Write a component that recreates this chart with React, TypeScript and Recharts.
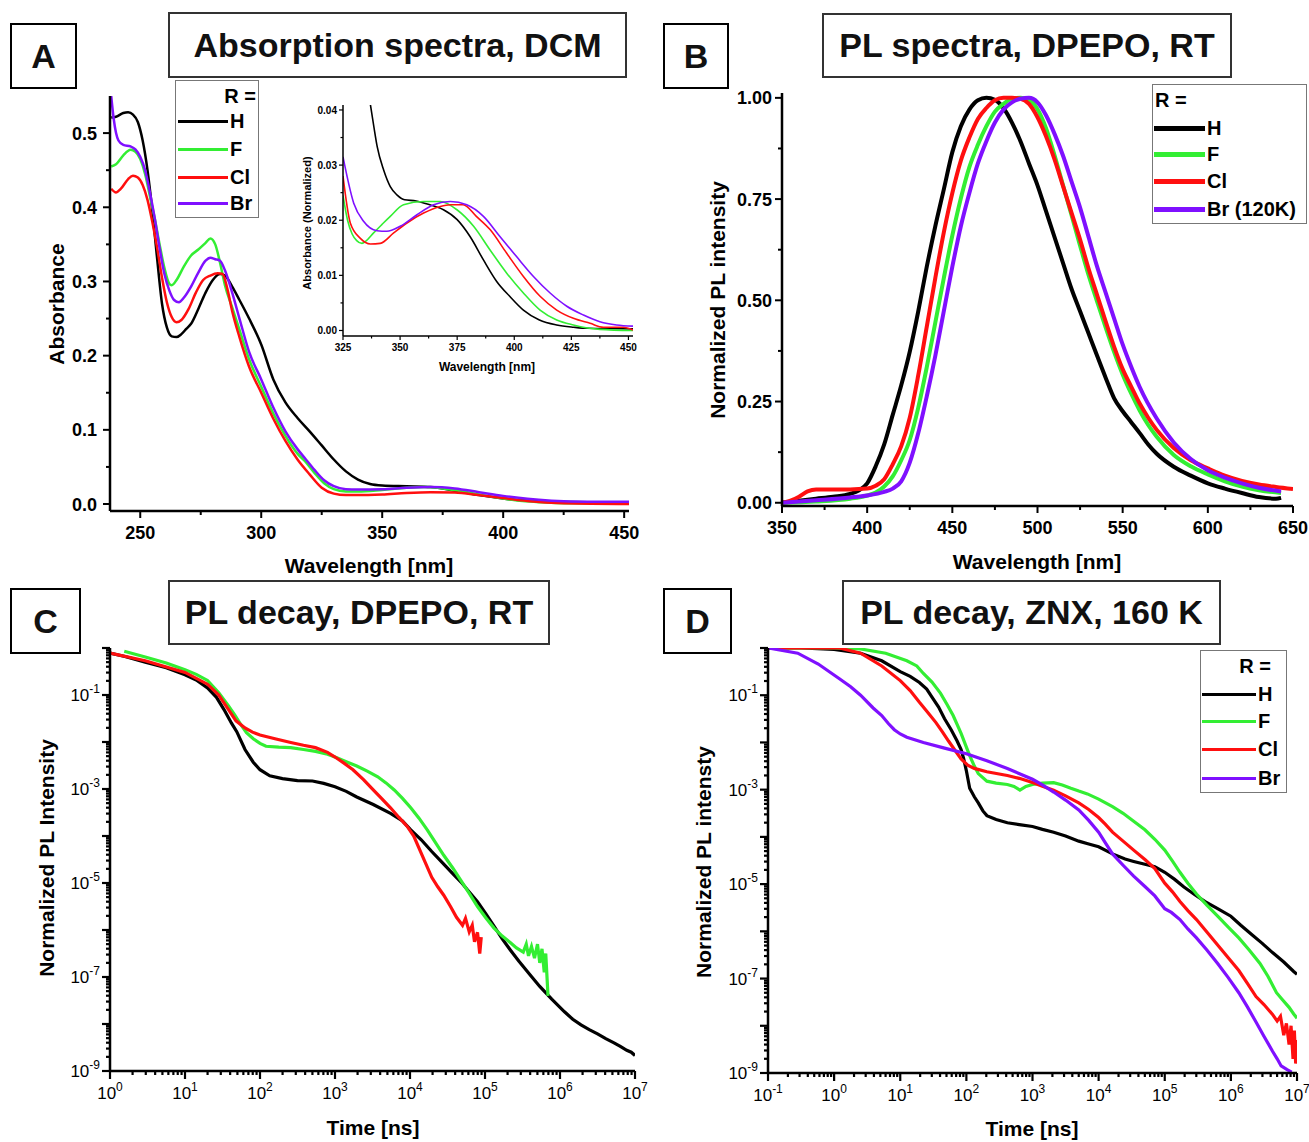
import React from "react";
import { LineChart, Line, XAxis, YAxis } from "recharts";

const FONT = '"Liberation Sans", Arial, Helvetica, sans-serif';
const COL_H = "#000000";
const COL_F = "#33ee33";
const COL_CL = "#ff0f0f";
const COL_BR = "#7f10ff";

type Pt = [number, number];

// ---- Panel A: absorption (nm, absorbance)
const absH: Pt[] = [
  [238, 0.521], [240, 0.522], [243, 0.527], [245, 0.528], [247, 0.525], [249, 0.515], [251, 0.49],
  [253, 0.45], [255, 0.395], [257, 0.33], [259, 0.27], [261, 0.238], [263, 0.226], [265, 0.225],
  [267, 0.229], [269, 0.236], [271, 0.243], [274, 0.263], [277, 0.285], [280, 0.302], [283, 0.31],
  [285, 0.308], [288, 0.293], [291, 0.275], [295, 0.25], [300, 0.215], [305, 0.168], [310, 0.137],
  [315, 0.116], [320, 0.098], [325, 0.079], [330, 0.06], [335, 0.044], [340, 0.033], [345, 0.027],
  [350, 0.025], [360, 0.024], [370, 0.023], [380, 0.018], [390, 0.012], [400, 0.0075], [410, 0.0045],
  [420, 0.003], [435, 0.0025], [452, 0.0025],
];
const absF: Pt[] = [
  [238, 0.455], [240, 0.458], [243, 0.47], [246, 0.4775], [248, 0.475], [250, 0.465], [252, 0.445],
  [254, 0.415], [256, 0.385], [258, 0.35], [260, 0.318], [262, 0.297], [263, 0.295], [265, 0.302],
  [268, 0.32], [271, 0.335], [274, 0.343], [277, 0.352], [279, 0.358], [281, 0.35], [283, 0.325],
  [285, 0.295], [288, 0.265], [291, 0.235], [295, 0.195], [300, 0.158], [305, 0.122], [310, 0.092],
  [315, 0.068], [318, 0.058], [322, 0.042], [326, 0.028], [330, 0.02], [335, 0.017], [340, 0.0168],
  [350, 0.019], [360, 0.022], [368, 0.023], [375, 0.021], [385, 0.016], [395, 0.01], [405, 0.005],
  [415, 0.0025], [430, 0.001], [452, 0.0005],
];
const absCl: Pt[] = [
  [238, 0.425], [240, 0.42], [242, 0.425], [245, 0.438], [247, 0.4425], [249, 0.44], [251, 0.43],
  [253, 0.41], [255, 0.38], [257, 0.345], [259, 0.305], [261, 0.272], [263, 0.252], [265, 0.245],
  [267, 0.248], [270, 0.263], [273, 0.285], [276, 0.302], [279, 0.308], [282, 0.311], [284, 0.31],
  [286, 0.29], [288, 0.26], [291, 0.225], [295, 0.185], [300, 0.15], [305, 0.115], [310, 0.085],
  [315, 0.06], [320, 0.04], [325, 0.022], [330, 0.014], [335, 0.012], [340, 0.012], [350, 0.013],
  [360, 0.015], [370, 0.016], [380, 0.0155], [390, 0.012], [400, 0.008], [410, 0.004], [425, 0.001],
  [452, 0.0],
];
const absBr: Pt[] = [
  [238, 0.55], [239, 0.52], [240, 0.5], [241, 0.49], [243, 0.484], [246, 0.482], [248, 0.478],
  [250, 0.468], [252, 0.45], [254, 0.42], [256, 0.385], [258, 0.345], [260, 0.31], [262, 0.288],
  [264, 0.275], [266, 0.272], [268, 0.278], [271, 0.293], [274, 0.312], [277, 0.328], [279, 0.332],
  [281, 0.33], [283, 0.328], [285, 0.315], [288, 0.285], [291, 0.25], [295, 0.205], [300, 0.168],
  [305, 0.13], [310, 0.098], [315, 0.074], [318, 0.062], [322, 0.046], [326, 0.032], [330, 0.024],
  [335, 0.02], [340, 0.0195], [350, 0.02], [360, 0.022], [370, 0.023], [380, 0.021], [390, 0.016],
  [400, 0.011], [410, 0.007], [420, 0.0045], [435, 0.003], [452, 0.003],
];

// ---- Panel A inset (nm, normalized absorbance)
const insH: Pt[] = [
  [336.8, 0.0415], [338.5, 0.037], [340, 0.0333], [342.8, 0.0291], [345.7, 0.0261], [348.6, 0.0246],
  [352, 0.0237], [357, 0.0235], [363, 0.0228], [369, 0.0219], [375, 0.0201], [380.7, 0.017],
  [386.5, 0.0128], [392.3, 0.0089], [398, 0.0062], [404, 0.0037], [411, 0.0019], [418.6, 0.001],
  [426, 0.0006], [432, 0.0004], [452, 0.0003],
];
const insF: Pt[] = [
  [325, 0.0245], [327, 0.02], [329, 0.0175], [331, 0.0163], [333.3, 0.0158], [335, 0.0162],
  [338.4, 0.0177], [342, 0.0192], [345.7, 0.0207], [351.5, 0.0228], [360.3, 0.0234], [367.6, 0.0234],
  [374.9, 0.0219], [382.2, 0.0189], [389.4, 0.0146], [396.7, 0.0104], [404, 0.0068], [411.3, 0.0037],
  [418.6, 0.0019], [425.9, 0.001], [437.5, 0.0002], [452, 0.0],
];
const insCl: Pt[] = [
  [325, 0.028], [328.2, 0.0195], [332.6, 0.0167], [337, 0.0157], [341.3, 0.0158], [347.2, 0.0177],
  [353, 0.0195], [360.3, 0.0213], [367.6, 0.0225], [372, 0.0228], [377.6, 0.0228], [383.4, 0.0207],
  [389.4, 0.0183], [396.7, 0.014], [404, 0.0098], [411.3, 0.0062], [418.6, 0.0037], [425.9, 0.0022],
  [433.2, 0.0013], [439, 0.0006], [447.7, 0.0006], [452, 0.0001],
];
const insBr: Pt[] = [
  [325, 0.0315], [329.7, 0.0231], [334, 0.0198], [339.9, 0.0181], [344.2, 0.018], [350, 0.0189],
  [357.4, 0.021], [364.7, 0.0228], [372, 0.0234], [379.2, 0.0228], [386.5, 0.0207], [393.8, 0.017],
  [401, 0.0134], [408.4, 0.0098], [415.7, 0.0068], [423, 0.0044], [430.3, 0.0028], [437.5, 0.0016],
  [444.8, 0.001], [452, 0.0008],
];

// ---- Panel B: PL spectra (nm, normalized)
const plH: Pt[] = [
  [350, 0.0], [360, 0.005], [370, 0.01], [380, 0.015], [390, 0.022], [395, 0.03], [400, 0.048],
  [405, 0.09], [410, 0.144], [415, 0.217], [420, 0.29], [425, 0.373], [430, 0.473], [435, 0.583],
  [440, 0.683], [445, 0.774], [450, 0.866], [455, 0.93], [460, 0.971], [465, 0.994], [470, 1.0],
  [475, 0.995], [480, 0.975], [485, 0.939], [490, 0.893], [495, 0.838], [500, 0.784], [505, 0.72],
  [510, 0.656], [515, 0.592], [520, 0.528], [525, 0.473], [530, 0.418], [535, 0.363], [540, 0.309],
  [545, 0.258], [550, 0.226], [555, 0.199], [560, 0.172], [565, 0.144], [570, 0.121], [580, 0.089],
  [590, 0.067], [600, 0.048], [610, 0.035], [620, 0.024], [630, 0.014], [640, 0.01], [643, 0.012],
];
const plF: Pt[] = [
  [350, 0.0], [370, 0.003], [390, 0.01], [400, 0.018], [405, 0.025], [410, 0.04], [415, 0.065],
  [420, 0.105], [425, 0.155], [430, 0.235], [435, 0.335], [440, 0.445], [445, 0.555], [450, 0.66],
  [455, 0.752], [460, 0.829], [465, 0.884], [470, 0.93], [475, 0.966], [480, 0.985], [485, 0.998],
  [490, 1.0], [495, 0.995], [500, 0.972], [505, 0.925], [510, 0.858], [515, 0.784], [520, 0.71],
  [525, 0.635], [530, 0.562], [535, 0.497], [540, 0.433], [545, 0.372], [550, 0.317], [555, 0.27],
  [560, 0.228], [565, 0.192], [570, 0.163], [580, 0.118], [590, 0.09], [600, 0.07], [610, 0.053],
  [620, 0.04], [630, 0.031], [643, 0.024],
];
const plCl: Pt[] = [
  [350, 0.0], [355, 0.005], [360, 0.015], [365, 0.028], [370, 0.033], [380, 0.033], [390, 0.033],
  [400, 0.035], [405, 0.042], [410, 0.058], [415, 0.095], [420, 0.14], [425, 0.21], [430, 0.315],
  [435, 0.435], [440, 0.555], [445, 0.668], [450, 0.765], [455, 0.845], [460, 0.902], [465, 0.948],
  [470, 0.975], [475, 0.994], [480, 1.0], [485, 1.0], [490, 0.998], [495, 0.985], [500, 0.952],
  [505, 0.905], [510, 0.848], [515, 0.782], [520, 0.716], [525, 0.65], [530, 0.578], [535, 0.513],
  [540, 0.448], [545, 0.385], [550, 0.33], [555, 0.287], [560, 0.245], [565, 0.21], [570, 0.18],
  [580, 0.135], [590, 0.105], [600, 0.085], [610, 0.067], [620, 0.054], [630, 0.045], [640, 0.039],
  [650, 0.034],
];
const plBr: Pt[] = [
  [350, 0.0], [370, 0.006], [390, 0.013], [400, 0.018], [410, 0.027], [415, 0.035], [420, 0.053],
  [425, 0.099], [430, 0.172], [435, 0.263], [440, 0.363], [445, 0.473], [450, 0.583], [455, 0.683],
  [460, 0.765], [465, 0.838], [470, 0.893], [475, 0.939], [480, 0.971], [485, 0.989], [490, 0.998],
  [495, 1.0], [500, 0.989], [505, 0.957], [510, 0.911], [515, 0.857], [520, 0.793], [525, 0.729],
  [530, 0.656], [535, 0.583], [540, 0.519], [545, 0.455], [550, 0.391], [555, 0.336], [560, 0.286],
  [570, 0.208], [580, 0.149], [590, 0.108], [600, 0.08], [610, 0.062], [620, 0.048], [630, 0.037],
  [643, 0.028],
];

// ---- Panel C: PL decay DPEPO, stored as [log10 t(ns), log10 I]
const decCH: Pt[] = [
  [0, -0.11], [0.2, -0.18], [0.47, -0.3], [0.75, -0.42], [1.0, -0.57], [1.15, -0.68], [1.3, -0.85],
  [1.42, -1.05], [1.52, -1.31], [1.62, -1.6], [1.69, -1.78], [1.8, -2.16], [1.91, -2.43], [2.0, -2.59],
  [2.13, -2.72], [2.3, -2.78], [2.5, -2.82], [2.7, -2.83], [2.85, -2.88], [3.0, -2.95], [3.15, -3.05],
  [3.29, -3.17], [3.51, -3.33], [3.74, -3.52], [3.9, -3.68], [4.01, -3.87], [4.15, -4.08], [4.29, -4.33],
  [4.45, -4.6], [4.57, -4.8], [4.68, -4.98], [4.79, -5.19], [4.9, -5.4], [5.01, -5.65], [5.12, -5.92],
  [5.23, -6.19], [5.34, -6.43], [5.45, -6.66], [5.6, -6.95], [5.73, -7.2], [5.89, -7.47], [6.06, -7.74],
  [6.17, -7.9], [6.28, -8.02], [6.39, -8.12], [6.5, -8.21], [6.61, -8.31], [6.72, -8.4], [6.81, -8.48],
  [6.89, -8.56], [6.95, -8.6], [7.0, -8.67],
];
const decCF: Pt[] = [
  [0.19, -0.07], [0.47, -0.19], [0.75, -0.32], [1.0, -0.46], [1.15, -0.56], [1.3, -0.69], [1.45, -0.95],
  [1.58, -1.23], [1.66, -1.42], [1.74, -1.62], [1.82, -1.8], [1.91, -1.93], [2.0, -2.03], [2.08, -2.09],
  [2.25, -2.11], [2.41, -2.12], [2.58, -2.16], [2.74, -2.2], [2.9, -2.26], [3.0, -2.32], [3.15, -2.42],
  [3.29, -2.51], [3.43, -2.62], [3.57, -2.74], [3.68, -2.87], [3.79, -3.02], [3.9, -3.2], [4.01, -3.4],
  [4.12, -3.62], [4.23, -3.87], [4.34, -4.14], [4.45, -4.41], [4.57, -4.68], [4.68, -4.95], [4.79, -5.22],
  [4.9, -5.5], [5.01, -5.74], [5.12, -5.96], [5.23, -6.13], [5.34, -6.27], [5.42, -6.38], [5.51, -6.47],
  [5.55, -6.3], [5.58, -6.55], [5.62, -6.35], [5.66, -6.6], [5.7, -6.3], [5.73, -6.7], [5.76, -6.4],
  [5.79, -6.9], [5.81, -6.5], [5.84, -7.4],
];
const decCCl: Pt[] = [
  [0, -0.11], [0.47, -0.27], [1.0, -0.52], [1.3, -0.77], [1.45, -1.0], [1.58, -1.31], [1.68, -1.55],
  [1.8, -1.7], [1.9, -1.79], [2.0, -1.85], [2.2, -1.93], [2.41, -2.01], [2.58, -2.07], [2.74, -2.12],
  [2.9, -2.22], [3.0, -2.32], [3.12, -2.45], [3.24, -2.59], [3.38, -2.8], [3.51, -3.02], [3.62, -3.2],
  [3.74, -3.4], [3.85, -3.6], [3.96, -3.79], [4.05, -4.0], [4.12, -4.26], [4.2, -4.55], [4.29, -4.88],
  [4.37, -5.08], [4.45, -5.26], [4.54, -5.5], [4.62, -5.73], [4.7, -5.9], [4.74, -5.75], [4.79, -6.04],
  [4.83, -5.9], [4.86, -6.25], [4.9, -6.05], [4.93, -6.5], [4.95, -6.15],
];

// ---- Panel D: PL decay ZNX 160 K, [log10 t(ns), log10 I]
const decDH: Pt[] = [
  [-1, 0], [-0.5, 0], [0, -0.03], [0.4, -0.11], [0.72, -0.27], [1.0, -0.5], [1.15, -0.6], [1.29, -0.73],
  [1.4, -0.87], [1.48, -1.04], [1.58, -1.25], [1.67, -1.5], [1.77, -1.73], [1.86, -1.97], [1.92, -2.15],
  [1.96, -2.35], [2.0, -2.6], [2.05, -2.97], [2.12, -3.15], [2.18, -3.28], [2.25, -3.45], [2.31, -3.55],
  [2.45, -3.63], [2.62, -3.7], [2.8, -3.74], [3.0, -3.78], [3.15, -3.84], [3.32, -3.9], [3.5, -3.98],
  [3.7, -4.09], [3.85, -4.15], [4.0, -4.21], [4.21, -4.36], [4.4, -4.47], [4.53, -4.52], [4.7, -4.58],
  [4.85, -4.63], [5.0, -4.75], [5.15, -4.9], [5.29, -5.06], [5.45, -5.22], [5.61, -5.37], [5.8, -5.52],
  [6.0, -5.68], [6.15, -5.87], [6.31, -6.06], [6.47, -6.25], [6.63, -6.45], [6.8, -6.65], [6.95, -6.85],
  [7.0, -6.91],
];
const decDF: Pt[] = [
  [-1, 0], [0, 0], [0.4, -0.02], [0.78, -0.11], [1.1, -0.27], [1.25, -0.38], [1.35, -0.54], [1.48, -0.72],
  [1.61, -0.96], [1.71, -1.2], [1.8, -1.43], [1.92, -1.81], [2.0, -2.1], [2.05, -2.28], [2.12, -2.5],
  [2.18, -2.66], [2.31, -2.82], [2.45, -2.86], [2.62, -2.89], [2.72, -2.93], [2.81, -3.01], [2.9, -2.93],
  [3.0, -2.89], [3.15, -2.86], [3.32, -2.85], [3.45, -2.9], [3.58, -2.97], [3.7, -3.03], [3.83, -3.09],
  [4.0, -3.2], [4.21, -3.36], [4.37, -3.5], [4.53, -3.67], [4.7, -3.85], [4.85, -4.05], [5.0, -4.28],
  [5.12, -4.52], [5.23, -4.75], [5.35, -4.98], [5.48, -5.21], [5.64, -5.45], [5.8, -5.68], [5.96, -5.91],
  [6.12, -6.14], [6.28, -6.4], [6.44, -6.68], [6.56, -6.95], [6.69, -7.3], [6.78, -7.45], [6.88, -7.61],
  [6.95, -7.75], [7.0, -7.84],
];
const decDCl: Pt[] = [
  [-1, 0], [0.08, 0], [0.4, -0.11], [0.72, -0.38], [1.0, -0.69], [1.15, -0.9], [1.29, -1.15], [1.42, -1.37],
  [1.54, -1.58], [1.64, -1.78], [1.73, -1.97], [1.83, -2.17], [1.92, -2.35], [2.02, -2.48], [2.12, -2.55],
  [2.31, -2.62], [2.62, -2.7], [2.8, -2.76], [3.0, -2.85], [3.15, -2.93], [3.32, -3.01], [3.5, -3.13],
  [3.7, -3.28], [3.85, -3.42], [4.0, -3.59], [4.1, -3.73], [4.21, -3.9], [4.37, -4.09], [4.53, -4.28],
  [4.7, -4.48], [4.85, -4.67], [5.0, -4.98], [5.12, -5.17], [5.23, -5.37], [5.35, -5.56], [5.48, -5.75],
  [5.64, -6.02], [5.8, -6.29], [5.96, -6.56], [6.12, -6.83], [6.25, -7.1], [6.38, -7.38], [6.5, -7.55],
  [6.63, -7.76], [6.7, -7.9], [6.75, -7.8], [6.8, -8.2], [6.84, -7.95], [6.88, -8.4], [6.91, -8.0],
  [6.94, -8.7], [6.96, -8.1], [6.98, -8.8], [7.0, -8.3],
];
const decDBr: Pt[] = [
  [-1, 0], [-0.55, -0.11], [-0.24, -0.34], [0.08, -0.65], [0.25, -0.82], [0.4, -1.0], [0.59, -1.27],
  [0.72, -1.43], [0.82, -1.6], [0.91, -1.73], [1.0, -1.82], [1.1, -1.89], [1.35, -2.0], [1.67, -2.12],
  [2.0, -2.24], [2.31, -2.39], [2.62, -2.55], [3.0, -2.78], [3.15, -2.9], [3.32, -3.05], [3.5, -3.22],
  [3.7, -3.43], [3.85, -3.65], [4.0, -3.9], [4.1, -4.12], [4.21, -4.36], [4.37, -4.6], [4.53, -4.83],
  [4.7, -5.05], [4.85, -5.25], [5.0, -5.52], [5.1, -5.6], [5.23, -5.75], [5.35, -5.95], [5.48, -6.14],
  [5.64, -6.4], [5.8, -6.68], [5.96, -6.98], [6.12, -7.3], [6.25, -7.6], [6.38, -7.92], [6.5, -8.22],
  [6.63, -8.54], [6.7, -8.7], [6.76, -8.85], [6.85, -8.93], [6.92, -8.98],
];

// ---- labels
const legendA = ["H", "F", "Cl", "Br"];
const legendB = ["H", "F", "Cl", "Br (120K)"];
const seriesColors = [COL_H, COL_F, COL_CL, COL_BR];

const rows = (pts: Pt[]) => pts.map(([x, y]) => ({ x, y }));
const logRows = (pts: Pt[]) => pts.map(([lx, ly]) => ({ x: Math.pow(10, lx), y: Math.pow(10, ly) }));

function steps(a: number, b: number, s: number) {
  const out: number[] = [];
  for (let i = 0; a + i * s <= b + 1e-9; i++) out.push(+(a + i * s).toFixed(6));
  return out;
}
function decades(lo: number, hi: number) {
  const out: number[] = [];
  for (let n = lo; n < hi; n++) for (let k = 1; k <= 9; k++) out.push(k * Math.pow(10, n));
  out.push(Math.pow(10, hi));
  return out;
}
const onStep = (s: number) => (v: number) => Math.abs(v / s - Math.round(v / s)) < 1e-6;
const isDecade = (v: number) => Math.abs(Math.log10(v) - Math.round(Math.log10(v))) < 1e-6;
const oddDecade = (v: number) => isDecade(v) && Math.abs(Math.round(Math.log10(v))) % 2 === 1;
const pow10 = (sup: number) => (v: number) => [
  <tspan key="b">10</tspan>,
  <tspan key="e" dy={-8} fontSize={sup}>{Math.round(Math.log10(v))}</tspan>,
];

type TickOpts = {
  major: (v: number) => boolean;
  show?: (v: number) => boolean;
  label: (v: number) => React.ReactNode;
  fs: number;
  fw: number | string;
  maj: number;
  min: number;
  sw: number;
  gap: number;
};

function xTick(o: TickOpts) {
  return (p: any) => {
    const v = p.payload.value;
    const m = o.major(v);
    const s = o.show ? o.show(v) : m;
    return (
      <g>
        <line x1={p.x} x2={p.x} y1={p.y} y2={p.y + (m ? o.maj : o.min)} stroke="#000" strokeWidth={o.sw} />
        {s && (
          <text x={p.x} y={p.y + o.gap} textAnchor="middle" fontFamily={FONT} fontSize={o.fs} fontWeight={o.fw} fill="#000">
            {o.label(v)}
          </text>
        )}
      </g>
    );
  };
}
function yTick(o: TickOpts) {
  return (p: any) => {
    const v = p.payload.value;
    const m = o.major(v);
    const s = o.show ? o.show(v) : m;
    return (
      <g>
        <line x1={p.x} x2={p.x - (m ? o.maj : o.min)} y1={p.y} y2={p.y} stroke="#000" strokeWidth={o.sw} />
        {s && (
          <text x={p.x - o.gap} y={p.y + o.fs * 0.36} textAnchor="end" fontFamily={FONT} fontSize={o.fs} fontWeight={o.fw} fill="#000">
            {o.label(v)}
          </text>
        )}
      </g>
    );
  };
}

type Rect = { l: number; t: number; r: number; b: number };
const YW = 90;
const XH = 60;
const PT = 12;
const PR = 30;

function Frame({ rect, children, yw = YW, xh = XH }: { rect: Rect; children: React.ReactNode; yw?: number; xh?: number }) {
  return (
    <div style={{ position: "absolute", left: rect.l - yw, top: rect.t - PT }}>
      <LineChart
        width={rect.r - rect.l + yw + PR}
        height={rect.b - rect.t + PT + xh}
        margin={{ top: PT, right: PR, left: 0, bottom: 0 }}
      >
        {children}
      </LineChart>
    </div>
  );
}

const axisLine = (w: number) => ({ stroke: "#000", strokeWidth: w });

function Box({ l, t, r, b, text, fs, border }: { l: number; t: number; r: number; b: number; text: string; fs: number; border: string }) {
  return (
    <div
      style={{
        position: "absolute", left: l, top: t, width: r - l, height: b - t, boxSizing: "border-box",
        border, display: "flex", alignItems: "center", justifyContent: "center",
        fontFamily: FONT, fontWeight: 700, fontSize: fs, color: "#111", whiteSpace: "nowrap", background: "#fff",
      }}
    >
      {text}
    </div>
  );
}

function AxisTitle({ x, y, text, fs, vertical }: { x: number; y: number; text: string; fs: number; vertical?: boolean }) {
  return (
    <div
      style={{
        position: "absolute", left: x, top: y, whiteSpace: "nowrap", fontFamily: FONT, fontWeight: 700,
        fontSize: fs, lineHeight: 1, color: "#000",
        transform: `translate(-50%, -50%)${vertical ? " rotate(-90deg)" : ""}`,
      }}
    >
      {text}
    </div>
  );
}

function LegendPanel(props: {
  box: Rect; head: { x: number; y: number; right?: boolean }; x1: number; x2: number; tx: number;
  ys: number[]; labels: string[]; lw: number; fs: number;
}) {
  const { box, head, x1, x2, tx, ys, labels, lw, fs } = props;
  const txt = (x: number, y: number, s: string, right?: boolean) => (
    <div
      key={s + y}
      style={{
        position: "absolute", top: y, left: right ? undefined : x, right: right ? 1309 - x : undefined,
        transform: "translateY(-50%)", fontFamily: FONT, fontWeight: 700, fontSize: fs, lineHeight: 1,
        whiteSpace: "nowrap", color: "#000",
      }}
    >
      {s}
    </div>
  );
  return (
    <>
      <div
        style={{
          position: "absolute", left: box.l, top: box.t, width: box.r - box.l, height: box.b - box.t,
          boxSizing: "border-box", border: "1.5px solid #777", background: "#fff",
        }}
      />
      {txt(head.x, head.y, "R =", head.right)}
      {labels.map((s, i) => (
        <React.Fragment key={s}>
          <div style={{ position: "absolute", left: x1, top: ys[i] - lw / 2, width: x2 - x1, height: lw, background: seriesColors[i] }} />
          {txt(tx, ys[i], s)}
        </React.Fragment>
      ))}
    </>
  );
}

const rectA: Rect = { l: 110, t: 96, r: 629, b: 511 };
const rectIn: Rect = { l: 343, t: 105, r: 633, b: 336 };
const rectB: Rect = { l: 782, t: 93, r: 1293, b: 506 };
const rectC: Rect = { l: 110, t: 648, r: 635, b: 1071 };
const rectD: Rect = { l: 768, t: 648, r: 1297, b: 1073 };

const linTick = (major: (v: number) => boolean, dec: number, fs: number, gap: number, maj = 7, min = 4, sw = 2) => ({
  major, label: (v: number) => (Number.isInteger(v) && dec === 0 ? String(v) : v.toFixed(dec)), fs, fw: 700, maj, min, sw, gap,
});
const logTick = (gap: number, show?: (v: number) => boolean) => ({
  major: isDecade, show, label: pow10(12), fs: 17, fw: 400, maj: 8, min: 4, sw: 2.2, gap,
});

export default function App() {
  const absSeries = [absH, absF, absCl, absBr];
  const insSeries = [insH, insF, insCl, insBr];
  const plSeries = [plH, plF, plCl, plBr];
  const decC = [decCH, decCF, decCCl];
  const decD = [decDH, decDF, decDCl, decDBr];

  return (
    <div style={{ position: "absolute", left: 0, top: 0, width: 1309, height: 1142, background: "#fff", overflow: "hidden" }}>
      {/* Panel A */}
      <Frame rect={rectA}>
        <XAxis type="number" dataKey="x" domain={[237.5, 452]} ticks={steps(250, 450, 25)} interval={0} allowDataOverflow
          height={XH} tickSize={0} tickMargin={0} tickLine={false} axisLine={axisLine(2.5)}
          tick={xTick(linTick(onStep(50), 0, 18, 28))} />
        <YAxis type="number" domain={[-0.0094, 0.55]} ticks={steps(0, 0.5, 0.05)} interval={0} allowDataOverflow
          width={YW} tickSize={0} tickMargin={0} tickLine={false} axisLine={axisLine(2.5)}
          tick={yTick(linTick(onStep(0.1), 1, 18, 13))} />
        {absSeries.map((s, i) => (
          <Line key={i} data={rows(s)} dataKey="y" type="monotone" stroke={seriesColors[i]} strokeWidth={2.5}
            dot={false} isAnimationActive={false} />
        ))}
      </Frame>
      <Frame rect={rectIn} yw={50} xh={30}>
        <XAxis type="number" dataKey="x" domain={[325, 452]} ticks={steps(325, 450, 12.5)} interval={0} allowDataOverflow
          height={30} tickSize={0} tickMargin={0} tickLine={false} axisLine={axisLine(1.5)}
          tick={xTick(linTick(onStep(25), 0, 10, 15, 4, 2.5, 1.2))} />
        <YAxis type="number" domain={[-0.001, 0.0409]} ticks={steps(0, 0.04, 0.005)} interval={0} allowDataOverflow
          width={50} tickSize={0} tickMargin={0} tickLine={false} axisLine={axisLine(1.5)}
          tick={yTick(linTick(onStep(0.01), 2, 10, 6, 4, 2.5, 1.2))} />
        {insSeries.map((s, i) => (
          <Line key={i} data={rows(s)} dataKey="y" type="monotone" stroke={seriesColors[i]} strokeWidth={1.6}
            dot={false} isAnimationActive={false} />
        ))}
      </Frame>

      {/* Panel B */}
      <Frame rect={rectB}>
        <XAxis type="number" dataKey="x" domain={[350, 650]} ticks={steps(350, 650, 25)} interval={0} allowDataOverflow
          height={XH} tickSize={0} tickMargin={0} tickLine={false} axisLine={axisLine(2.5)}
          tick={xTick(linTick(onStep(50), 0, 18, 28))} />
        <YAxis type="number" domain={[-0.008, 1.012]} ticks={steps(0, 1, 0.125)} interval={0} allowDataOverflow
          width={YW} tickSize={0} tickMargin={0} tickLine={false} axisLine={axisLine(2.5)}
          tick={yTick(linTick(onStep(0.25), 2, 18, 10))} />
        {plSeries.map((s, i) => (
          <Line key={i} data={rows(s)} dataKey="y" type="monotone" stroke={seriesColors[i]} strokeWidth={4}
            dot={false} isAnimationActive={false} />
        ))}
      </Frame>

      {/* Panel C */}
      <Frame rect={rectC}>
        <XAxis type="number" scale="log" dataKey="x" domain={[1, 1e7]} ticks={decades(0, 7)} interval={0} allowDataOverflow
          height={XH} tickSize={0} tickMargin={0} tickLine={false} axisLine={axisLine(2.5)} tick={xTick(logTick(28))} />
        <YAxis type="number" scale="log" domain={[1e-9, 1]} ticks={decades(-9, 0)} interval={0} allowDataOverflow
          width={YW} tickSize={0} tickMargin={0} tickLine={false} axisLine={axisLine(2.5)} tick={yTick(logTick(10, oddDecade))} />
        {decC.map((s, i) => (
          <Line key={i} data={logRows(s)} dataKey="y" type="linear" stroke={seriesColors[i]} strokeWidth={3.2}
            dot={false} isAnimationActive={false} />
        ))}
      </Frame>

      {/* Panel D */}
      <Frame rect={rectD}>
        <XAxis type="number" scale="log" dataKey="x" domain={[0.1, 1e7]} ticks={decades(-1, 7)} interval={0} allowDataOverflow
          height={XH} tickSize={0} tickMargin={0} tickLine={false} axisLine={axisLine(2.5)} tick={xTick(logTick(28))} />
        <YAxis type="number" scale="log" domain={[1e-9, 1]} ticks={decades(-9, 0)} interval={0} allowDataOverflow
          width={YW} tickSize={0} tickMargin={0} tickLine={false} axisLine={axisLine(2.5)} tick={yTick(logTick(10, oddDecade))} />
        {decD.map((s, i) => (
          <Line key={i} data={logRows(s)} dataKey="y" type="linear" stroke={seriesColors[i]} strokeWidth={3.2}
            dot={false} isAnimationActive={false} />
        ))}
      </Frame>

      {/* boxes and titles */}
      <Box l={10} t={23} r={77} b={89} text="A" fs={34} border="2.5px solid #000" />
      <Box l={168} t={12} r={627} b={78} text="Absorption spectra, DCM" fs={34} border="2px solid #333" />
      <Box l={663} t={23} r={729} b={89} text="B" fs={34} border="2.5px solid #000" />
      <Box l={822} t={13} r={1232} b={78} text="PL spectra, DPEPO, RT" fs={34} border="2px solid #333" />
      <Box l={10} t={588} r={81} b={654} text="C" fs={34} border="2.5px solid #000" />
      <Box l={168} t={580} r={550} b={645} text="PL decay, DPEPO, RT" fs={34} border="2px solid #333" />
      <Box l={663} t={588} r={732} b={654} text="D" fs={34} border="2.5px solid #000" />
      <Box l={842} t={580} r={1221} b={645} text="PL decay, ZNX, 160 K" fs={34} border="2px solid #333" />

      <AxisTitle x={56} y={304} text="Absorbance" fs={21} vertical />
      <AxisTitle x={369} y={565} text="Wavelength [nm]" fs={21} />
      <AxisTitle x={307} y={223} text="Absorbance (Normalized)" fs={11} vertical />
      <AxisTitle x={487} y={367} text="Wavelength [nm]" fs={12} />
      <AxisTitle x={717} y={300} text="Normalized PL intensity" fs={21} vertical />
      <AxisTitle x={1037} y={561} text="Wavelength [nm]" fs={21} />
      <AxisTitle x={46} y={858} text="Normalized PL Intensity" fs={21} vertical />
      <AxisTitle x={373} y={1127} text="Time [ns]" fs={21} />
      <AxisTitle x={703} y={862} text="Normalized PL intensty" fs={21} vertical />
      <AxisTitle x={1032} y={1128} text="Time [ns]" fs={21} />

      <LegendPanel box={{ l: 175, t: 80, r: 259, b: 218 }} head={{ x: 256, y: 96, right: true }} x1={178} x2={228} tx={230}
        ys={[121, 149, 177, 203]} labels={legendA} lw={3} fs={20} />
      <LegendPanel box={{ l: 1152, t: 84, r: 1307, b: 224 }} head={{ x: 1155, y: 100 }} x1={1154} x2={1205} tx={1207}
        ys={[128, 154, 181, 209]} labels={legendB} lw={5} fs={20} />
      <LegendPanel box={{ l: 1200, t: 650, r: 1287, b: 793 }} head={{ x: 1271, y: 666, right: true }} x1={1202} x2={1256} tx={1258}
        ys={[694, 721, 749, 778]} labels={legendA} lw={3} fs={20} />
    </div>
  );
}
